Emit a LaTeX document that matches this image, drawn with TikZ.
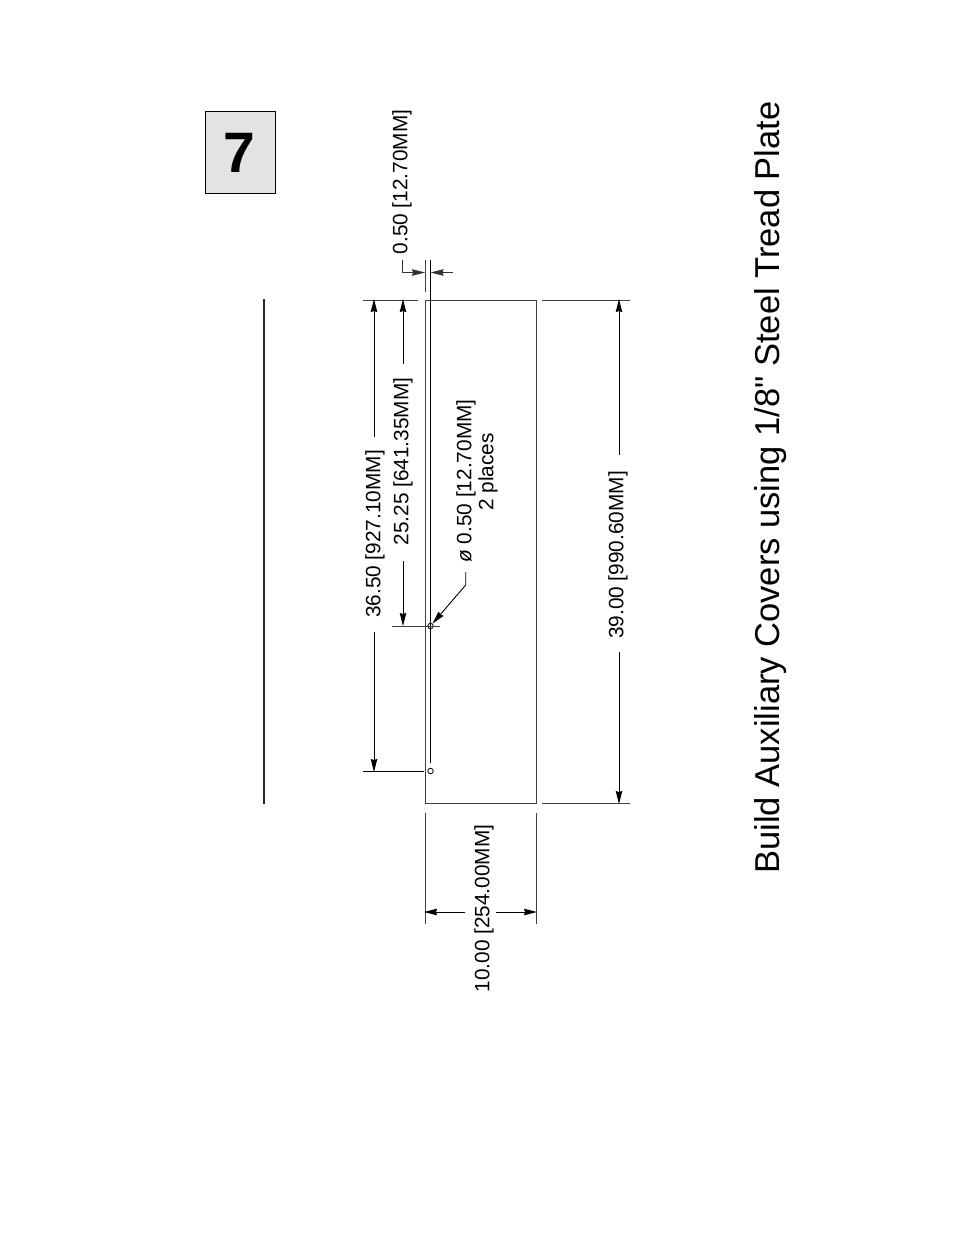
\documentclass[tikz,border=0pt]{standalone}
\usepackage{fontspec}
\setmainfont{Liberation Sans}
\newfontfamily\titlefont{Liberation Sans}
\usetikzlibrary{arrows.meta}
\tikzset{
  dimline/.style={line width=0.9pt,black},
  dimarrow/.style={dimline,-{Stealth[length=13pt,width=6.5pt,inset=1pt]}},
  extline/.style={line width=1pt,black!75},
  dimtext/.style={font=\fontsize{20.8}{23}\selectfont,rotate=90,inner sep=0pt,anchor=center},
  hole/.style={circle,draw,line width=0.8pt,inner sep=0pt,minimum size=5.5pt},
}
\begin{document}
\begin{tikzpicture}[x=1pt,y=-1pt]
\useasboundingbox (0,0) rectangle (954,1235);
% step badge
\node[draw,line width=1pt,fill=black!11,minimum width=70pt,minimum height=82pt,inner sep=0pt,anchor=center] (badge) at (240.5,152.5) {};
\node[font=\fontsize{57}{57}\selectfont\bfseries,inner sep=0pt] (seven) at (239,152.5) {7};
% side view
\coordinate (sidetop) at (263.5,299);
\coordinate (sidebot) at (263.5,803.5);
\draw[line width=2pt,black!85] (sidetop) -- (sidebot);
% plate
\coordinate (pTL) at (425,300);
\coordinate (pTR) at (536,300);
\coordinate (pBL) at (425,803.5);
\coordinate (pBR) at (536,803.5);
\draw[extline] (pTL) -- (pTR) -- (pBR) -- (pBL) -- cycle;
% holes
\node[hole] (h1) at (430.5,626) {};
\node[hole] (h2) at (430.5,771) {};
% hole centre line
\coordinate (cltop) at (430.5,260);
\coordinate (clbot) at (430.5,763);
\draw[dimline] (cltop) -- (clbot);
% 0.50 dimension
\coordinate (e1a) at (425,260);
\coordinate (e1b) at (425,291.5);
\draw[extline] (e1a) -- (e1b);
\coordinate (a1) at (402.3,260);
\coordinate (a2) at (402.3,272.5);
\coordinate (a3) at (425,272.5);
\coordinate (a4) at (453,272.5);
\coordinate (a5) at (430.5,272.5);
\draw[dimarrow,black!80] (a1) -- (a2) -- (a3);
\draw[dimarrow,black!80] (a4) -- (a5);
\node[dimtext] (t1) at (402,182) {0.50 [12.70MM]};
% horizontal extension lines
\coordinate (x1) at (363,300); \coordinate (x2) at (418,300);
\coordinate (x3) at (542,300); \coordinate (x4) at (630,300);
\coordinate (x5) at (542,803.5); \coordinate (x6) at (630,803.5);
\coordinate (x7) at (392,626); \coordinate (x8) at (440,626);
\coordinate (x9) at (363,771.5); \coordinate (x10) at (424,771.5);
\draw[extline] (x1) -- (x2);
\draw[extline] (x3) -- (x4);
\draw[extline] (x5) -- (x6);
\draw[extline] (x7) -- (x8);
\draw[dimline] (x9) -- (x10);
% 36.50
\node[dimtext] (t2) at (375,534) {36.50 [927.10MM]};
\coordinate (d1a) at (374,437); \coordinate (d1b) at (374,299);
\coordinate (d1c) at (374,632); \coordinate (d1d) at (374,772);
\draw[dimarrow] (d1a) -- (d1b);
\draw[dimarrow] (d1c) -- (d1d);
% 25.25
\node[dimtext] (t3) at (403,461.5) {25.25 [641.35MM]};
\coordinate (d2a) at (403,364); \coordinate (d2b) at (403,299);
\coordinate (d2c) at (403,561); \coordinate (d2d) at (403,626);
\draw[dimarrow] (d2a) -- (d2b);
\draw[dimarrow] (d2c) -- (d2d);
% 39.00
\node[dimtext] (t4) at (618,555) {39.00 [990.60MM]};
\coordinate (d3a) at (619,455); \coordinate (d3b) at (619,299);
\coordinate (d3c) at (619,652); \coordinate (d3d) at (619,804);
\draw[dimarrow] (d3a) -- (d3b);
\draw[dimarrow] (d3c) -- (d3d);
% 10.00
\coordinate (v1) at (425,813); \coordinate (v2) at (425,924);
\coordinate (v3) at (536,813); \coordinate (v4) at (536,924);
\draw[extline] (v1) -- (v2);
\draw[extline] (v3) -- (v4);
\node[dimtext] (t5) at (484,908.5) {10.00 [254.00MM]};
\coordinate (d4a) at (465,912); \coordinate (d4b) at (424,912);
\coordinate (d4c) at (496,912); \coordinate (d4d) at (537,912);
\draw[dimarrow] (d4a) -- (d4b);
\draw[dimarrow] (d4c) -- (d4d);
% hole callout
\node[dimtext] (t6) at (466,481) {\textit{ø} 0.50 [12.70MM]};
\node[dimtext] (t7) at (488,472) {2 places};
\coordinate (l1) at (465.7,572); \coordinate (l2) at (465.7,585);
\draw[dimarrow] (l1) -- (l2) -- (h1);
% title
\node[font=\fontsize{34.5}{38}\selectfont\titlefont,rotate=90,inner sep=0pt] (title) at (771,487.5) {Build Auxiliary Covers using 1/8" Steel Tread Plate};
\end{tikzpicture}
\end{document}
